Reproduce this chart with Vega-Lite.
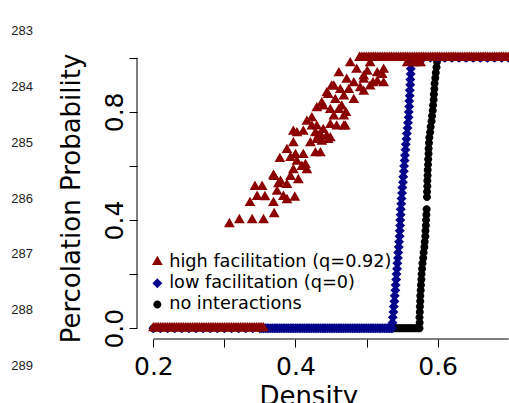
{
"$schema":"https://vega.github.io/schema/vega-lite/v6.json",
"autosize":{"type":"none"},
"padding":{"left":137,"top":47,"right":0,"bottom":64},
"width":372,"height":292,
"background":"white",
"config":{"view":{"stroke":null},"font":"DejaVu Sans"},
"datasets":{"pts":[
{"g":"n","x":0.2,"y":0},{"g":"n","x":0.21,"y":0},{"g":"n","x":0.22,"y":0},{"g":"n","x":0.23,"y":0},{"g":"n","x":0.24,"y":0},{"g":"n","x":0.25,"y":0},{"g":"n","x":0.26,"y":0},{"g":"n","x":0.27,"y":0},{"g":"n","x":0.28,"y":0},{"g":"n","x":0.29,"y":0},{"g":"n","x":0.3,"y":0},{"g":"n","x":0.31,"y":0},{"g":"n","x":0.32,"y":0},{"g":"n","x":0.33,"y":0},{"g":"n","x":0.34,"y":0},{"g":"n","x":0.35,"y":0},{"g":"n","x":0.36,"y":0},{"g":"n","x":0.37,"y":0},{"g":"n","x":0.38,"y":0},{"g":"n","x":0.39,"y":0},{"g":"n","x":0.4,"y":0},{"g":"n","x":0.41,"y":0},{"g":"n","x":0.42,"y":0},{"g":"n","x":0.43,"y":0},{"g":"n","x":0.44,"y":0},{"g":"n","x":0.45,"y":0},{"g":"n","x":0.46,"y":0},{"g":"n","x":0.47,"y":0},{"g":"n","x":0.48,"y":0},{"g":"n","x":0.49,"y":0},{"g":"n","x":0.5,"y":0},{"g":"n","x":0.51,"y":0},{"g":"n","x":0.52,"y":0},{"g":"n","x":0.53,"y":0},
{"g":"n","x":0.5325,"y":0},{"g":"n","x":0.535,"y":0},{"g":"n","x":0.5375,"y":0},{"g":"n","x":0.54,"y":0},{"g":"n","x":0.5425,"y":0},{"g":"n","x":0.545,"y":0},{"g":"n","x":0.5475,"y":0},{"g":"n","x":0.55,"y":0},{"g":"n","x":0.5525,"y":0},{"g":"n","x":0.555,"y":0},{"g":"n","x":0.5575,"y":0},{"g":"n","x":0.56,"y":0},{"g":"n","x":0.5625,"y":0},{"g":"n","x":0.565,"y":0},{"g":"n","x":0.5675,"y":0},{"g":"n","x":0.57,"y":0},{"g":"n","x":0.5725,"y":0},
{"g":"n","x":0.5745,"y":0},{"g":"n","x":0.5747,"y":0.02},{"g":"n","x":0.5745,"y":0.04},{"g":"n","x":0.5749,"y":0.06},{"g":"n","x":0.5751,"y":0.08},{"g":"n","x":0.5755,"y":0.1},{"g":"n","x":0.5756,"y":0.12},{"g":"n","x":0.5762,"y":0.14},{"g":"n","x":0.5765,"y":0.16},{"g":"n","x":0.5771,"y":0.18},{"g":"n","x":0.5774,"y":0.2},{"g":"n","x":0.5781,"y":0.22},{"g":"n","x":0.5787,"y":0.24},{"g":"n","x":0.5797,"y":0.26},{"g":"n","x":0.5803,"y":0.28},{"g":"n","x":0.5813,"y":0.3},{"g":"n","x":0.5818,"y":0.32},{"g":"n","x":0.5827,"y":0.34},{"g":"n","x":0.5829,"y":0.36},{"g":"n","x":0.5835,"y":0.38},{"g":"n","x":0.5837,"y":0.4},{"g":"n","x":0.5842,"y":0.42},{"g":"n","x":0.5845,"y":0.44},
{"g":"n","x":0.585,"y":0.485},{"g":"n","x":0.5851,"y":0.505},{"g":"n","x":0.5855,"y":0.525},{"g":"n","x":0.5855,"y":0.545},{"g":"n","x":0.5859,"y":0.565},{"g":"n","x":0.586,"y":0.585},{"g":"n","x":0.5865,"y":0.605},{"g":"n","x":0.5867,"y":0.625},{"g":"n","x":0.5872,"y":0.645},{"g":"n","x":0.5873,"y":0.665},{"g":"n","x":0.5878,"y":0.685},{"g":"n","x":0.5883,"y":0.705},{"g":"n","x":0.5894,"y":0.725},{"g":"n","x":0.5902,"y":0.745},{"g":"n","x":0.5914,"y":0.765},{"g":"n","x":0.5921,"y":0.785},{"g":"n","x":0.5931,"y":0.805},{"g":"n","x":0.5936,"y":0.825},{"g":"n","x":0.5944,"y":0.845},{"g":"n","x":0.5947,"y":0.865},{"g":"n","x":0.5954,"y":0.885},{"g":"n","x":0.5957,"y":0.905},{"g":"n","x":0.5967,"y":0.925},{"g":"n","x":0.5974,"y":0.945},{"g":"n","x":0.5984,"y":0.965},{"g":"n","x":0.5991,"y":0.985},{"g":"n","x":0.6,"y":1},
{"g":"n","x":0.61,"y":1},{"g":"n","x":0.62,"y":1},{"g":"n","x":0.63,"y":1},{"g":"n","x":0.64,"y":1},{"g":"n","x":0.65,"y":1},{"g":"n","x":0.66,"y":1},{"g":"n","x":0.67,"y":1},{"g":"n","x":0.68,"y":1},{"g":"n","x":0.69,"y":1},{"g":"n","x":0.7,"y":1},
{"g":"l","x":0.2,"y":0},{"g":"l","x":0.21,"y":0},{"g":"l","x":0.22,"y":0},{"g":"l","x":0.23,"y":0},{"g":"l","x":0.24,"y":0},{"g":"l","x":0.25,"y":0},{"g":"l","x":0.26,"y":0},{"g":"l","x":0.27,"y":0},{"g":"l","x":0.28,"y":0},{"g":"l","x":0.29,"y":0},{"g":"l","x":0.3,"y":0},{"g":"l","x":0.31,"y":0},{"g":"l","x":0.32,"y":0},{"g":"l","x":0.33,"y":0},{"g":"l","x":0.34,"y":0},{"g":"l","x":0.35,"y":0},
{"g":"l","x":0.3525,"y":0},{"g":"l","x":0.355,"y":0},{"g":"l","x":0.3575,"y":0},{"g":"l","x":0.36,"y":0},{"g":"l","x":0.3625,"y":0},{"g":"l","x":0.365,"y":0},{"g":"l","x":0.3675,"y":0},{"g":"l","x":0.37,"y":0},{"g":"l","x":0.3725,"y":0},{"g":"l","x":0.375,"y":0},{"g":"l","x":0.3775,"y":0},{"g":"l","x":0.38,"y":0},{"g":"l","x":0.3825,"y":0},{"g":"l","x":0.385,"y":0},{"g":"l","x":0.3875,"y":0},{"g":"l","x":0.39,"y":0},{"g":"l","x":0.3925,"y":0},{"g":"l","x":0.395,"y":0},{"g":"l","x":0.3975,"y":0},{"g":"l","x":0.4,"y":0},{"g":"l","x":0.4025,"y":0},{"g":"l","x":0.405,"y":0},{"g":"l","x":0.4075,"y":0},{"g":"l","x":0.41,"y":0},{"g":"l","x":0.4125,"y":0},{"g":"l","x":0.415,"y":0},{"g":"l","x":0.4175,"y":0},{"g":"l","x":0.42,"y":0},{"g":"l","x":0.4225,"y":0},{"g":"l","x":0.425,"y":0},{"g":"l","x":0.4275,"y":0},{"g":"l","x":0.43,"y":0},{"g":"l","x":0.4325,"y":0},{"g":"l","x":0.435,"y":0},{"g":"l","x":0.4375,"y":0},{"g":"l","x":0.44,"y":0},{"g":"l","x":0.4425,"y":0},{"g":"l","x":0.445,"y":0},{"g":"l","x":0.4475,"y":0},{"g":"l","x":0.45,"y":0},{"g":"l","x":0.4525,"y":0},{"g":"l","x":0.455,"y":0},{"g":"l","x":0.4575,"y":0},{"g":"l","x":0.46,"y":0},{"g":"l","x":0.4625,"y":0},{"g":"l","x":0.465,"y":0},{"g":"l","x":0.4675,"y":0},{"g":"l","x":0.47,"y":0},{"g":"l","x":0.4725,"y":0},{"g":"l","x":0.475,"y":0},{"g":"l","x":0.4775,"y":0},{"g":"l","x":0.48,"y":0},{"g":"l","x":0.4825,"y":0},{"g":"l","x":0.485,"y":0},{"g":"l","x":0.4875,"y":0},{"g":"l","x":0.49,"y":0},{"g":"l","x":0.4925,"y":0},{"g":"l","x":0.495,"y":0},{"g":"l","x":0.4975,"y":0},{"g":"l","x":0.5,"y":0},{"g":"l","x":0.5025,"y":0},{"g":"l","x":0.505,"y":0},{"g":"l","x":0.5075,"y":0},{"g":"l","x":0.51,"y":0},{"g":"l","x":0.5125,"y":0},{"g":"l","x":0.515,"y":0},{"g":"l","x":0.5175,"y":0},{"g":"l","x":0.52,"y":0},{"g":"l","x":0.5225,"y":0},{"g":"l","x":0.525,"y":0},{"g":"l","x":0.5275,"y":0},{"g":"l","x":0.53,"y":0},{"g":"l","x":0.5325,"y":0},{"g":"l","x":0.535,"y":0},
{"g":"l","x":0.536,"y":0},{"g":"l","x":0.5365,"y":0.02},{"g":"l","x":0.5369,"y":0.04},{"g":"l","x":0.5378,"y":0.06},{"g":"l","x":0.5383,"y":0.08},{"g":"l","x":0.5392,"y":0.1},{"g":"l","x":0.5396,"y":0.12},{"g":"l","x":0.5405,"y":0.14},{"g":"l","x":0.5409,"y":0.16},{"g":"l","x":0.5417,"y":0.18},{"g":"l","x":0.5421,"y":0.2},{"g":"l","x":0.5429,"y":0.22},{"g":"l","x":0.5433,"y":0.24},{"g":"l","x":0.5441,"y":0.26},{"g":"l","x":0.5445,"y":0.28},{"g":"l","x":0.5453,"y":0.3},{"g":"l","x":0.5457,"y":0.32},{"g":"l","x":0.5465,"y":0.34},{"g":"l","x":0.5467,"y":0.36},{"g":"l","x":0.5472,"y":0.38},{"g":"l","x":0.5474,"y":0.4},{"g":"l","x":0.548,"y":0.42},{"g":"l","x":0.5481,"y":0.44},{"g":"l","x":0.5488,"y":0.46},{"g":"l","x":0.5492,"y":0.48},{"g":"l","x":0.55,"y":0.5},{"g":"l","x":0.5504,"y":0.52},{"g":"l","x":0.5512,"y":0.54},{"g":"l","x":0.5516,"y":0.56},{"g":"l","x":0.5524,"y":0.58},{"g":"l","x":0.5528,"y":0.6},{"g":"l","x":0.5536,"y":0.62},{"g":"l","x":0.554,"y":0.64},{"g":"l","x":0.5548,"y":0.66},{"g":"l","x":0.5552,"y":0.68},{"g":"l","x":0.5561,"y":0.7},{"g":"l","x":0.5567,"y":0.72},{"g":"l","x":0.5577,"y":0.74},{"g":"l","x":0.5583,"y":0.76},{"g":"l","x":0.5592,"y":0.78},{"g":"l","x":0.5594,"y":0.8},{"g":"l","x":0.56,"y":0.82},{"g":"l","x":0.5601,"y":0.84},{"g":"l","x":0.5607,"y":0.86},{"g":"l","x":0.5609,"y":0.88},{"g":"l","x":0.5615,"y":0.9},{"g":"l","x":0.5616,"y":0.92},{"g":"l","x":0.5621,"y":0.94},{"g":"l","x":0.5622,"y":0.96},{"g":"l","x":0.5628,"y":0.98},{"g":"l","x":0.563,"y":1},
{"g":"l","x":0.57,"y":1},{"g":"l","x":0.58,"y":1},{"g":"l","x":0.59,"y":1},{"g":"l","x":0.6,"y":1},{"g":"l","x":0.61,"y":1},{"g":"l","x":0.62,"y":1},{"g":"l","x":0.63,"y":1},{"g":"l","x":0.64,"y":1},{"g":"l","x":0.65,"y":1},{"g":"l","x":0.66,"y":1},{"g":"l","x":0.67,"y":1},{"g":"l","x":0.68,"y":1},{"g":"l","x":0.69,"y":1},{"g":"l","x":0.7,"y":1},
{"g":"h","x":0.2,"y":0},{"g":"h","x":0.2025,"y":0},{"g":"h","x":0.205,"y":0},{"g":"h","x":0.2075,"y":0},{"g":"h","x":0.21,"y":0},{"g":"h","x":0.2125,"y":0},{"g":"h","x":0.215,"y":0},{"g":"h","x":0.2175,"y":0},{"g":"h","x":0.22,"y":0},{"g":"h","x":0.2225,"y":0},{"g":"h","x":0.225,"y":0},{"g":"h","x":0.2275,"y":0},{"g":"h","x":0.23,"y":0},{"g":"h","x":0.2325,"y":0},{"g":"h","x":0.235,"y":0},{"g":"h","x":0.2375,"y":0},{"g":"h","x":0.24,"y":0},{"g":"h","x":0.2425,"y":0},{"g":"h","x":0.245,"y":0},{"g":"h","x":0.2475,"y":0},{"g":"h","x":0.25,"y":0},{"g":"h","x":0.2525,"y":0},{"g":"h","x":0.255,"y":0},{"g":"h","x":0.2575,"y":0},{"g":"h","x":0.26,"y":0},{"g":"h","x":0.2625,"y":0},{"g":"h","x":0.265,"y":0},{"g":"h","x":0.2675,"y":0},{"g":"h","x":0.27,"y":0},{"g":"h","x":0.2725,"y":0},{"g":"h","x":0.275,"y":0},{"g":"h","x":0.2775,"y":0},{"g":"h","x":0.28,"y":0},{"g":"h","x":0.2825,"y":0},{"g":"h","x":0.285,"y":0},{"g":"h","x":0.2875,"y":0},{"g":"h","x":0.29,"y":0},{"g":"h","x":0.2925,"y":0},{"g":"h","x":0.295,"y":0},{"g":"h","x":0.2975,"y":0},{"g":"h","x":0.3,"y":0},{"g":"h","x":0.3025,"y":0},{"g":"h","x":0.305,"y":0},{"g":"h","x":0.3075,"y":0},{"g":"h","x":0.31,"y":0},{"g":"h","x":0.3125,"y":0},{"g":"h","x":0.315,"y":0},{"g":"h","x":0.3175,"y":0},{"g":"h","x":0.32,"y":0},{"g":"h","x":0.3225,"y":0},{"g":"h","x":0.325,"y":0},{"g":"h","x":0.3275,"y":0},{"g":"h","x":0.33,"y":0},{"g":"h","x":0.3325,"y":0},{"g":"h","x":0.335,"y":0},{"g":"h","x":0.3375,"y":0},{"g":"h","x":0.34,"y":0},{"g":"h","x":0.3425,"y":0},{"g":"h","x":0.345,"y":0},{"g":"h","x":0.3475,"y":0},{"g":"h","x":0.35,"y":0},{"g":"h","x":0.3525,"y":0},{"g":"h","x":0.355,"y":0},
{"g":"h","x":0.307,"y":0.385},{"g":"h","x":0.321,"y":0.4},{"g":"h","x":0.339,"y":0.4},{"g":"h","x":0.355,"y":0.4},{"g":"h","x":0.37,"y":0.422},{"g":"h","x":0.336,"y":0.463},{"g":"h","x":0.343,"y":0.523},{"g":"h","x":0.353,"y":0.523},{"g":"h","x":0.346,"y":0.486},{"g":"h","x":0.357,"y":0.485},{"g":"h","x":0.369,"y":0.463},{"g":"h","x":0.374,"y":0.505},{"g":"h","x":0.383,"y":0.486},{"g":"h","x":0.399,"y":0.483},{"g":"h","x":0.37,"y":0.56},{"g":"h","x":0.379,"y":0.542},{"g":"h","x":0.388,"y":0.53},{"g":"h","x":0.393,"y":0.56},{"g":"h","x":0.404,"y":0.548},{"g":"h","x":0.378,"y":0.626},{"g":"h","x":0.388,"y":0.659},{"g":"h","x":0.397,"y":0.684},{"g":"h","x":0.393,"y":0.63},{"g":"h","x":0.4,"y":0.641},{"g":"h","x":0.402,"y":0.616},{"g":"h","x":0.411,"y":0.641},{"g":"h","x":0.409,"y":0.597},{"g":"h","x":0.416,"y":0.585},{"g":"h","x":0.397,"y":0.585},{"g":"h","x":0.402,"y":0.721},{"g":"h","x":0.411,"y":0.727},{"g":"h","x":0.416,"y":0.764},{"g":"h","x":0.423,"y":0.777},{"g":"h","x":0.421,"y":0.684},{"g":"h","x":0.428,"y":0.647},{"g":"h","x":0.435,"y":0.647},{"g":"h","x":0.423,"y":0.746},{"g":"h","x":0.43,"y":0.746},{"g":"h","x":0.43,"y":0.696},{"g":"h","x":0.437,"y":0.69},{"g":"h","x":0.428,"y":0.721},{"g":"h","x":0.439,"y":0.733},{"g":"h","x":0.439,"y":0.82},{"g":"h","x":0.446,"y":0.863},{"g":"h","x":0.449,"y":0.807},{"g":"h","x":0.454,"y":0.783},{"g":"h","x":0.444,"y":0.709},{"g":"h","x":0.449,"y":0.703},{"g":"h","x":0.458,"y":0.746},{"g":"h","x":0.468,"y":0.746},{"g":"h","x":0.461,"y":0.807},{"g":"h","x":0.468,"y":0.783},{"g":"h","x":0.456,"y":0.844},{"g":"h","x":0.463,"y":0.881},{"g":"h","x":0.454,"y":0.894},{"g":"h","x":0.461,"y":0.943},{"g":"h","x":0.477,"y":0.98},{"g":"h","x":0.472,"y":0.919},{"g":"h","x":0.482,"y":0.906},{"g":"h","x":0.491,"y":0.888},{"g":"h","x":0.496,"y":0.919},{"g":"h","x":0.505,"y":0.894},{"g":"h","x":0.515,"y":0.912},{"g":"h","x":0.468,"y":0.857},{"g":"h","x":0.475,"y":0.881},{"g":"h","x":0.486,"y":0.956},{"g":"h","x":0.515,"y":0.943},{"g":"h","x":0.524,"y":0.956},{"g":"h","x":0.505,"y":0.98},{"g":"h","x":0.557,"y":0.98},{"g":"h","x":0.571,"y":0.98},{"g":"h","x":0.576,"y":0.98},{"g":"h","x":0.566,"y":0.98},{"g":"h","x":0.388,"y":0.474},{"g":"h","x":0.376,"y":0.533},{"g":"h","x":0.369,"y":0.564},{"g":"h","x":0.414,"y":0.604},{"g":"h","x":0.435,"y":0.715},{"g":"h","x":0.451,"y":0.894},{"g":"h","x":0.444,"y":0.869},{"g":"h","x":0.437,"y":0.832},{"g":"h","x":0.43,"y":0.814},{"g":"h","x":0.397,"y":0.727},{"g":"h","x":0.482,"y":0.844},{"g":"h","x":0.449,"y":0.752},{"g":"h","x":0.446,"y":0.696},{"g":"h","x":0.432,"y":0.709},{"g":"h","x":0.496,"y":0.931},{"g":"h","x":0.501,"y":0.949},{"g":"h","x":0.522,"y":0.937},{"g":"h","x":0.509,"y":0.906},{"g":"h","x":0.524,"y":0.906},{"g":"h","x":0.496,"y":0.875},{"g":"h","x":0.471,"y":0.796},{"g":"h","x":0.47,"y":0.746},{"g":"h","x":0.465,"y":0.82},
{"g":"h","x":0.49,"y":1},{"g":"h","x":0.4925,"y":1},{"g":"h","x":0.495,"y":1},{"g":"h","x":0.4975,"y":1},{"g":"h","x":0.5,"y":1},{"g":"h","x":0.5025,"y":1},{"g":"h","x":0.505,"y":1},{"g":"h","x":0.5075,"y":1},{"g":"h","x":0.51,"y":1},{"g":"h","x":0.5125,"y":1},{"g":"h","x":0.515,"y":1},{"g":"h","x":0.5175,"y":1},{"g":"h","x":0.52,"y":1},{"g":"h","x":0.5225,"y":1},{"g":"h","x":0.525,"y":1},{"g":"h","x":0.5275,"y":1},{"g":"h","x":0.53,"y":1},{"g":"h","x":0.5325,"y":1},{"g":"h","x":0.535,"y":1},{"g":"h","x":0.5375,"y":1},{"g":"h","x":0.54,"y":1},{"g":"h","x":0.5425,"y":1},{"g":"h","x":0.545,"y":1},{"g":"h","x":0.5475,"y":1},{"g":"h","x":0.55,"y":1},{"g":"h","x":0.5525,"y":1},{"g":"h","x":0.555,"y":1},{"g":"h","x":0.5575,"y":1},{"g":"h","x":0.56,"y":1},{"g":"h","x":0.5625,"y":1},{"g":"h","x":0.565,"y":1},{"g":"h","x":0.5675,"y":1},{"g":"h","x":0.57,"y":1},{"g":"h","x":0.5725,"y":1},{"g":"h","x":0.575,"y":1},{"g":"h","x":0.5775,"y":1},{"g":"h","x":0.58,"y":1},{"g":"h","x":0.5825,"y":1},{"g":"h","x":0.585,"y":1},{"g":"h","x":0.5875,"y":1},{"g":"h","x":0.59,"y":1},{"g":"h","x":0.5925,"y":1},{"g":"h","x":0.595,"y":1},{"g":"h","x":0.5975,"y":1},{"g":"h","x":0.6,"y":1},{"g":"h","x":0.6025,"y":1},{"g":"h","x":0.605,"y":1},{"g":"h","x":0.6075,"y":1},{"g":"h","x":0.61,"y":1},{"g":"h","x":0.6125,"y":1},{"g":"h","x":0.615,"y":1},{"g":"h","x":0.6175,"y":1},{"g":"h","x":0.62,"y":1},{"g":"h","x":0.6225,"y":1},{"g":"h","x":0.625,"y":1},{"g":"h","x":0.6275,"y":1},{"g":"h","x":0.63,"y":1},{"g":"h","x":0.6325,"y":1},{"g":"h","x":0.635,"y":1},{"g":"h","x":0.6375,"y":1},{"g":"h","x":0.64,"y":1},{"g":"h","x":0.6425,"y":1},{"g":"h","x":0.645,"y":1},{"g":"h","x":0.6475,"y":1},{"g":"h","x":0.65,"y":1},{"g":"h","x":0.6525,"y":1},{"g":"h","x":0.655,"y":1},{"g":"h","x":0.6575,"y":1},{"g":"h","x":0.66,"y":1},{"g":"h","x":0.6625,"y":1},{"g":"h","x":0.665,"y":1},{"g":"h","x":0.6675,"y":1},{"g":"h","x":0.67,"y":1},{"g":"h","x":0.6725,"y":1},{"g":"h","x":0.675,"y":1},{"g":"h","x":0.6775,"y":1},{"g":"h","x":0.68,"y":1},{"g":"h","x":0.6825,"y":1},{"g":"h","x":0.685,"y":1},{"g":"h","x":0.6875,"y":1},{"g":"h","x":0.69,"y":1},{"g":"h","x":0.6925,"y":1},{"g":"h","x":0.695,"y":1},{"g":"h","x":0.6975,"y":1},{"g":"h","x":0.7,"y":1}
]},
"layer":[
{"data":{"name":"pts"},
 "mark":{"type":"point","filled":true,"opacity":1,"size":155,"strokeWidth":0},
 "encoding":{
  "x":{"field":"x","type":"quantitative","scale":{"domain":[0.177,0.7004],"nice":false,"zero":false},
   "axis":{"values":[0.2,0.3,0.4,0.5,0.6,0.7],"labelExpr":"indexof(['0.2','0.4','0.6'], format(datum.value,'.1f')) >= 0 ? format(datum.value,'.1f') : ''","domain":false,"grid":false,"tickSize":8,"tickColor":"black","tickWidth":1,"labelFont":"DejaVu Sans","labelFontSize":25,"labelColor":"black","labelPadding":7,"labelBaseline":"top","labelAlign":"center","labelFlush":false,"labelOverlap":false,"labelBound":false,"title":"Density","titleFont":"DejaVu Sans","titleFontSize":26,"titleFontWeight":"normal","titleColor":"black","titleX":171.3,"titleY":65,"titleBaseline":"alphabetic","titleAlign":"center"}},
  "y":{"field":"y","type":"quantitative","scale":{"domain":[-0.04,1.04],"nice":false,"zero":false},
   "axis":{"values":[0,0.2,0.4,0.6,0.8,1],"labelExpr":"indexof(['0.0','0.4','0.8'], format(datum.value,'.1f')) >= 0 ? format(datum.value,'.1f') : ''","domain":false,"grid":false,"tickSize":8,"tickColor":"black","tickWidth":1,"labelFont":"DejaVu Sans","labelFontSize":25,"labelColor":"black","labelPadding":7,"labelAngle":270,"labelAlign":"center","labelBaseline":"alphabetic","labelFlush":false,"labelOverlap":false,"labelBound":false,"title":"Percolation Probability","titleFont":"DejaVu Sans","titleFontSize":26,"titleFontWeight":"normal","titleColor":"black","titleAngle":270,"titleX":-57.5,"titleY":151,"titleBaseline":"alphabetic","titleAlign":"center"}},
  "color":{"field":"g","type":"nominal","scale":{"domain":["h","l","n"],"range":["#8B0000","#00008B","#000000"]},
   "legend":{"orient":"none","legendX":11.5,"legendY":206,"title":null,"padding":0,"symbolSize":155,"symbolStrokeWidth":0,"labelFont":"DejaVu Sans","labelFontSize":17.7,"labelColor":"black","labelOffset":3,"rowPadding":2.3,"labelLimit":0,"labelExpr":"datum.value == 'h' ? 'high facilitation (q=0.92)' : datum.value == 'l' ? 'low facilitation (q=0)' : 'no interactions'"}},
  "shape":{"field":"g","type":"nominal","scale":{"domain":["h","l","n"],"range":["M0,-1L0.866,0.5L-0.866,0.5Z","M0,-0.8L0.8,0L0,0.8L-0.8,0Z","M-0.64,0A0.64,0.64,0,1,1,0.64,0A0.64,0.64,0,1,1,-0.64,0Z"]},
   "legend":{"orient":"none","legendX":11.5,"legendY":206,"title":null,"padding":0,"symbolSize":155,"symbolStrokeWidth":0,"labelFont":"DejaVu Sans","labelFontSize":17.7,"labelColor":"black","labelOffset":3,"rowPadding":2.3,"labelLimit":0,"labelExpr":"datum.value == 'h' ? 'high facilitation (q=0.92)' : datum.value == 'l' ? 'low facilitation (q=0)' : 'no interactions'"}}
 }},
{"data":{"values":[{"a":0.2,"b":0.7,"c":-0.04}]},
 "mark":{"type":"rule","color":"black","strokeWidth":1},
 "encoding":{
  "x":{"field":"a","type":"quantitative","scale":{"domain":[0.177,0.7004],"nice":false,"zero":false},"axis":null},
  "x2":{"field":"b"},
  "y":{"field":"c","type":"quantitative","scale":{"domain":[-0.04,1.04],"nice":false,"zero":false},"axis":null}}},
{"data":{"values":[{"a":0.177,"c":0,"d":1}]},
 "mark":{"type":"rule","color":"black","strokeWidth":1},
 "encoding":{
  "x":{"field":"a","type":"quantitative","scale":{"domain":[0.177,0.7004],"nice":false,"zero":false},"axis":null},
  "y":{"field":"c","type":"quantitative","scale":{"domain":[-0.04,1.04],"nice":false,"zero":false},"axis":null},
  "y2":{"field":"d"}}},
{"data":{"values":[{"ln":283},{"ln":284},{"ln":285},{"ln":286},{"ln":287},{"ln":288},{"ln":289}]},
 "mark":{"type":"text","align":"left","baseline":"middle","font":"Liberation Sans","fontSize":13,"color":"#222222"},
 "encoding":{
  "x":{"datum":0,"type":"quantitative","scale":{"domain":[0.177,0.7004],"nice":false,"zero":false},"axis":null},
  "y":{"field":"ln","type":"quantitative","scale":{"domain":[283.2825,288.52],"reverse":true,"nice":false,"zero":false},"axis":null},
  "text":{"field":"ln","type":"quantitative"}}}
],
"resolve":{"scale":{"x":"independent","y":"independent"}}
}
